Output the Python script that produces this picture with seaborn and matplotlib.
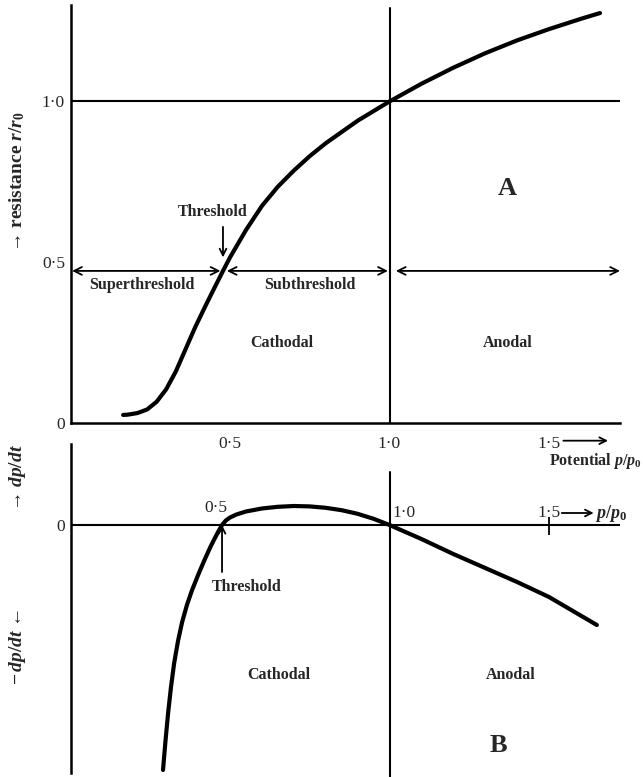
import matplotlib
matplotlib.use('Agg')
import matplotlib.pyplot as plt
import seaborn as sns
import pandas as pd

# A: resistance r/r0 against potential p/p0
potential_a = [0.165, 0.18, 0.21, 0.24, 0.27, 0.30, 0.33, 0.36, 0.39, 0.42, 0.45,
               0.478, 0.50, 0.55, 0.60, 0.65, 0.70, 0.75, 0.80, 0.85, 0.90, 0.95,
               1.00, 1.10, 1.20, 1.30, 1.40, 1.50, 1.60, 1.66]
resistance_a = [0.025, 0.026, 0.031, 0.042, 0.066, 0.105, 0.16, 0.228, 0.296, 0.358,
                0.418, 0.473, 0.515, 0.60, 0.675, 0.735, 0.785, 0.83, 0.87, 0.905,
                0.94, 0.97, 1.00, 1.055, 1.105, 1.15, 1.19, 1.225, 1.257, 1.275]

# B: dp/dt against potential (arbitrary units, zero at the axis)
potential_b = [0.290, 0.298, 0.306, 0.315, 0.325, 0.337, 0.350, 0.365, 0.380, 0.400,
               0.420, 0.440, 0.460, 0.475, 0.487, 0.500, 0.52, 0.55, 0.60, 0.65,
               0.70, 0.75, 0.80, 0.85, 0.90, 0.95, 1.00, 1.10, 1.20, 1.30, 1.40,
               1.50, 1.65]
rate_b = [-2.45, -2.15, -1.88, -1.62, -1.38, -1.16, -0.97, -0.80, -0.66, -0.50,
          -0.35, -0.21, -0.085, 0.0, 0.045, 0.075, 0.105, 0.135, 0.165, 0.182,
          0.19, 0.186, 0.172, 0.148, 0.112, 0.062, 0.0, -0.14, -0.29, -0.43, -0.57,
          -0.72, -1.0]

threshold_p = 0.478
threshold_r = 0.473
x_ticks = [0.5, 1.0, 1.5]
x_tick_labels = ['0·5', '1·0', '1·5']
y_ticks_a = [0, 0.5, 1.0]
y_tick_labels_a = ['0', '0·5', '1·0']

df_a = pd.DataFrame({'p': potential_a, 'r': resistance_a})
df_b = pd.DataFrame({'p': potential_b, 'v': rate_b})

sns.set_style('white')
plt.rcParams['font.family'] = ['Liberation Serif', 'DejaVu Serif']
plt.rcParams['mathtext.fontset'] = 'custom'
plt.rcParams['mathtext.it'] = 'Liberation Serif:italic:bold'
plt.rcParams['mathtext.rm'] = 'Liberation Serif:bold'

W, H = 643, 777
fig = plt.figure(figsize=(W / 100, H / 100), dpi=100)

x0, x1 = 70.5, 620
xmax = (x1 - x0) / 319
axB = fig.add_axes([x0 / W, 0, (x1 - x0) / W, (777 - 444) / H])
axA = fig.add_axes([x0 / W, 1 - 423 / H, (x1 - x0) / W, (423 - 5) / H])
axA.set_facecolor('none')
axB.set_facecolor('none')
axA.set_zorder(3)

bold = dict(fontweight='bold', fontsize=11.5, ha='center', va='center')
arrow2 = dict(arrowstyle='<->', lw=1.3, color='black', mutation_scale=14,
              shrinkA=0, shrinkB=0)
arrow1 = dict(arrowstyle='->', lw=1.3, color='black', mutation_scale=12,
              shrinkA=0, shrinkB=0)

# ---------------- panel A ----------------
ax = axA
sns.lineplot(data=df_a, x='p', y='r', ax=ax, color='black', linewidth=3,
             sort=False, estimator=None)
ax.set_xlim(0, xmax)
ax.set_ylim(0, 1.30)
ax.axhline(1.0, color='black', lw=1.5)
ax.axvline(1.0, color='black', lw=1.5, ymax=1.29 / 1.30)
for s in ['top', 'right']:
    ax.spines[s].set_visible(False)
for s in ['left', 'bottom']:
    ax.spines[s].set_linewidth(1.8)
    ax.spines[s].set_color('black')
ax.set_xticks(x_ticks)
ax.set_xticklabels(x_tick_labels)
ax.set_yticks(y_ticks_a)
ax.set_yticklabels(y_tick_labels_a)
ax.tick_params(axis='x', direction='inout', length=18, width=1.3, labelsize=12.5, pad=0)
ax.tick_params(axis='y', length=0, labelsize=12.5, pad=4)
ax.set_xlabel('')
ax.set_ylabel('')

ax.annotate('', xy=(0.005, threshold_r), xytext=(threshold_p - 0.008, threshold_r),
            arrowprops=arrow2)
ax.annotate('', xy=(threshold_p + 0.012, threshold_r), xytext=(0.995, threshold_r),
            arrowprops=arrow2)
ax.annotate('', xy=(1.02, threshold_r), xytext=(xmax, threshold_r),
            arrowprops=arrow2, annotation_clip=False)
ax.annotate('', xy=(threshold_p, 0.515), xytext=(threshold_p, 0.61),
            arrowprops=arrow1)
ax.text(0.447, 0.655, 'Threshold', **bold)
ax.text(0.224, 0.43, 'Superthreshold', **bold)
ax.text(0.75, 0.43, 'Subthreshold', **bold)
ax.text(0.663, 0.25, 'Cathodal', **bold)
ax.text(1.37, 0.25, 'Anodal', **bold)
ax.text(1.37, 0.73, 'A', fontsize=19, fontweight='bold', ha='center', va='center')
ax.annotate('', xy=(1.685, -0.055), xytext=(1.545, -0.055), arrowprops=arrow1,
            annotation_clip=False)
ax.text(1.79, -0.118, 'Potential $p/p_0$', fontsize=11.5, fontweight='bold',
        ha='right', va='center', clip_on=False)

# ---------------- panel B ----------------
ax = axB
sns.lineplot(data=df_b, x='p', y='v', ax=ax, color='black', linewidth=3,
             sort=False, estimator=None)
ymin_b, ymax_b = -2.52, 0.81
ax.set_xlim(0, xmax)
ax.set_ylim(ymin_b, ymax_b)
ax.axhline(0, color='black', lw=1.5)
ax.axvline(1.0, color='black', lw=1.5, ymax=(0.53 - ymin_b) / (ymax_b - ymin_b))
for s in ['top', 'right', 'bottom']:
    ax.spines[s].set_visible(False)
ax.spines['left'].set_linewidth(1.8)
ax.spines['left'].set_color('black')
ax.spines['left'].set_bounds(-2.48, ymax_b)
ax.set_xticks([])
ax.set_yticks([0])
ax.set_yticklabels(['0'])
ax.tick_params(axis='y', length=0, labelsize=12.5, pad=4)
ax.set_xlabel('')
ax.set_ylabel('')

# tick at 1.5 across the zero line
ax.vlines([1.5], -0.10, 0.08, color='black', lw=1.3)
ax.text(0.455, 0.17, '0·5', fontsize=12.5, ha='center', va='center')
ax.text(1.01, 0.12, '1·0', fontsize=12.5, ha='left', va='center')
ax.text(1.50, 0.12, '1·5', fontsize=12.5, ha='center', va='center')
ax.annotate('', xy=(1.64, 0.12), xytext=(1.54, 0.12), arrowprops=arrow1)
ax.text(1.645, 0.12, '$p/p_0$', fontsize=13, ha='left', va='center', clip_on=False)
ax.annotate('', xy=(0.475, 0.0), xytext=(0.475, -0.47), arrowprops=arrow1)
ax.text(0.553, -0.62, 'Threshold', **bold)
ax.text(0.653, -1.5, 'Cathodal', **bold)
ax.text(1.38, -1.5, 'Anodal', **bold)
ax.text(1.34, -2.2, 'B', fontsize=19, fontweight='bold', ha='center', va='center')

# rotated axis titles
fig.text(17 / W, 1 - 182 / H, '→ resistance $r/r_0$', rotation=90, fontsize=14,
         fontweight='bold', ha='center', va='center')
fig.text(17 / W, 1 - 478 / H, '→ $dp/dt$', rotation=90, fontsize=14,
         fontweight='bold', ha='center', va='center')
fig.text(17 / W, 1 - 647 / H, '$-\\,dp/dt$ ←', rotation=90, fontsize=14,
         fontweight='bold', ha='center', va='center')

fig.savefig('out.png', dpi=100)
plt.close(fig)
